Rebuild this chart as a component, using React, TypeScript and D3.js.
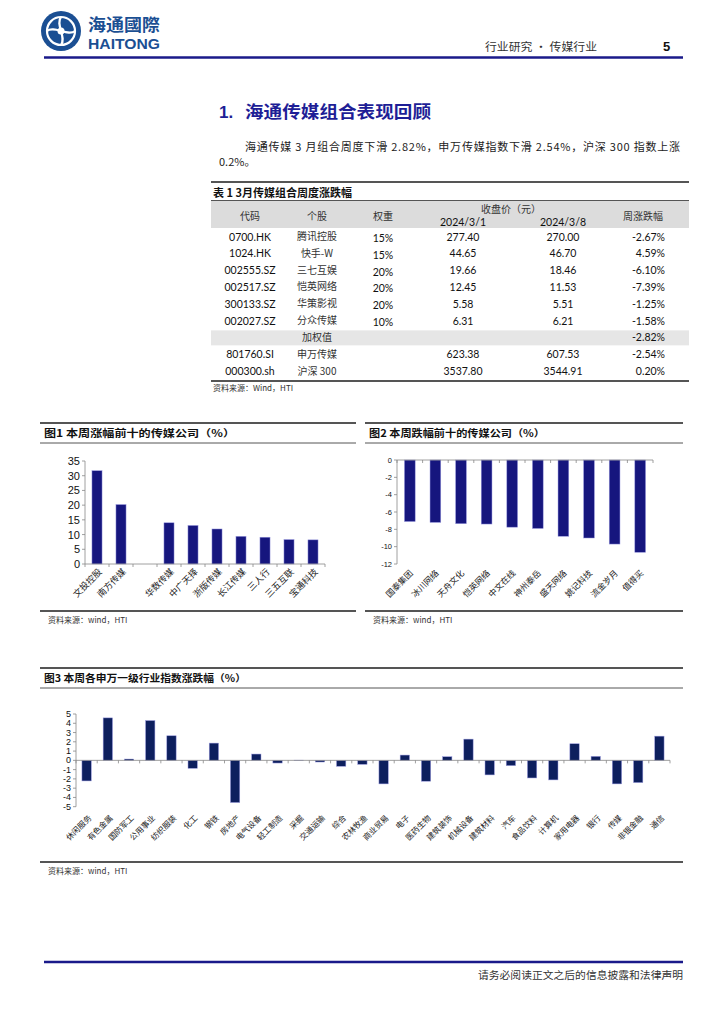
import React from 'react';
import * as d3 from 'd3';

// table 1
const tableCodes = ['0700.HK', '1024.HK', '002555.SZ', '002517.SZ', '300133.SZ', '002027.SZ', '', '801760.SI', '000300.sh'];
const tableNames = ['腾讯控股', '快手-W', '三七互娱', '恺英网络', '华策影视', '分众传媒', '加权值', '申万传媒', '沪深 300'];
const tableWeights = ['15%', '15%', '20%', '20%', '20%', '10%', '', '', ''];
const tablePrice0301 = ['277.40', '44.65', '19.66', '12.45', '5.58', '6.31', '', '623.38', '3537.80'];
const tablePrice0308 = ['270.00', '46.70', '18.46', '11.53', '5.51', '6.21', '', '607.53', '3544.91'];
const tableChange = ['-2.67%', '4.59%', '-6.10%', '-7.39%', '-1.25%', '-1.58%', '-2.82%', '-2.54%', '0.20%'];

// fig 1
const gainNames = ['文投控股', '南方传媒', '', '华数传媒', '中广天择', '浙版传媒', '长江传媒', '三人行', '三五互联', '宝通科技'];
const gainValues = [31.7, 20.2, 0, 14.0, 13.1, 11.9, 9.4, 9.1, 8.3, 8.2];
const gainTicks = [0, 5, 10, 15, 20, 25, 30, 35];

// fig 2
const lossNames = ['国泰集团', '冰川网络', '天舟文化', '恺英网络', '中文在线', '神州泰岳', '盛天网络', '姚记科技', '流金岁月', '值得买'];
const lossValues = [-7.1, -7.2, -7.35, -7.39, -7.75, -7.9, -8.8, -9.0, -9.7, -10.65];
const lossTicks = [0, -2, -4, -6, -8, -10, -12];

// fig 3
const industryNames = ['休闲服务', '有色金属', '国防军工', '公用事业', '纺织服装', '化工', '钢铁', '房地产', '电气设备', '轻工制造', '采掘', '交通运输', '综合', '农林牧渔', '商业贸易', '电子', '医药生物', '建筑装饰', '机械设备', '建筑材料', '汽车', '食品饮料', '计算机', '家用电器', '银行', '传媒', '非银金融', '通信'];
const industryValues = [-2.22, 4.58, 0.14, 4.29, 2.65, -0.86, 1.86, -4.55, 0.68, -0.29, 0.02, -0.18, -0.64, -0.43, -2.54, 0.57, -2.25, 0.39, 2.29, -1.57, -0.57, -1.9, -2.11, 1.79, 0.43, -2.54, -2.4, 2.61];
const industryTicks = [5, 4, 3, 2, 1, 0, -1, -2, -3, -4, -5];

const CJK = '"Noto Sans CJK SC", sans-serif';
const NUM = 'Lato, "Noto Sans CJK SC", sans-serif';
const ARIAL = '"Liberation Sans", Arial, sans-serif';
const NAVY = '#1a1a8a';

function Logo() {
  return (
    <g>
      <circle cx={61} cy={31} r={20} fill="#1b4f93" />
      <circle cx={61} cy={31} r={14} fill="none" stroke="#fff" strokeWidth={2.2} />
      <path d="M61,17 C55,24 67,38 61,45" fill="none" stroke="#fff" strokeWidth={2.2} />
      <path d="M47,31 C54,25 68,37 75,31" fill="none" stroke="#fff" strokeWidth={2.2} />
      <circle cx={61} cy={31} r={3.5} fill="#fff" />
      <text x={88} y={31} fontFamily={CJK} fontWeight={700} fontSize={17} fill="#1b4f93" textLength={72} lengthAdjust="spacingAndGlyphs">海通國際</text>
      <text x={88} y={49} fontFamily={ARIAL} fontWeight={700} fontSize={15} fill="#1b4f93" textLength={72} lengthAdjust="spacingAndGlyphs">HAITONG</text>
    </g>
  );
}

function Table() {
  const rowY = d3.scaleLinear().domain([0, 8]).range([236.5, 371]);
  const colCode = 250;
  const colName = 317;
  const colWeight = 383;
  const col1 = 463;
  const col2 = 563;
  const colChg = 665;
  const t = { fontFamily: NUM, fontSize: 10.5, fill: '#111' };
  const c = { fontFamily: CJK, fontSize: 10, fill: '#333' };
  return (
    <g>
      <line x1={211} x2={689} y1={182} y2={182} stroke="#555" strokeWidth={2} />
      <text x={213} y={197} fontFamily={CJK} fontWeight={700} fontSize={11} fill="#111" textLength={139} lengthAdjust="spacingAndGlyphs">表 1 3月传媒组合周度涨跌幅</text>
      <line x1={211} x2={689} y1={200.5} y2={200.5} stroke="#555" strokeWidth={1} />
      <rect x={211} y={201} width={478} height={27} fill="#dcdcdc" />
      <text x={colCode} y={215} {...c} textAnchor="middle" dominantBaseline="central">代码</text>
      <text x={colName} y={215} {...c} textAnchor="middle" dominantBaseline="central">个股</text>
      <text x={colWeight} y={215} {...c} textAnchor="middle" dominantBaseline="central">权重</text>
      <text x={511} y={208} {...c} textAnchor="middle" dominantBaseline="central">收盘价（元）</text>
      <text x={col1} y={222} {...t} textAnchor="middle" dominantBaseline="central">2024/3/1</text>
      <text x={col2} y={222} {...t} textAnchor="middle" dominantBaseline="central">2024/3/8</text>
      <text x={643} y={215} {...c} textAnchor="middle" dominantBaseline="central">周涨跌幅</text>
      <rect x={211} y={rowY(6) - 7} width={478} height={15} fill="#e6e6e6" />
      {tableNames.map((name, i) => {
        const y = rowY(i);
        return (
          <g key={i}>
            <text x={colCode} y={y} {...t} textAnchor="middle" dominantBaseline="central">{tableCodes[i]}</text>
            <text x={colName} y={y - 1} {...c} textAnchor="middle" dominantBaseline="central">{name}</text>
            <text x={colWeight} y={y + 1.5} {...t} textAnchor="middle" dominantBaseline="central">{tableWeights[i]}</text>
            <text x={col1} y={y} {...t} textAnchor="middle" dominantBaseline="central">{tablePrice0301[i]}</text>
            <text x={col2} y={y} {...t} textAnchor="middle" dominantBaseline="central">{tablePrice0308[i]}</text>
            <text x={colChg} y={y} {...t} textAnchor="end" dominantBaseline="central">{tableChange[i]}</text>
          </g>
        );
      })}
      <line x1={211} x2={689} y1={381} y2={381} stroke="#555" strokeWidth={2} />
      <text x={213} y={391} fontFamily={CJK} fontSize={8} fill="#333">资料来源：Wind，HTI</text>
    </g>
  );
}

function FigFrame({ x0, x1, top, bottom, title, titleLen }: { x0: number; x1: number; top: number; bottom: number; title: string; titleLen: number }) {
  return (
    <g>
      <line x1={x0} x2={x1} y1={top} y2={top} stroke="#555" strokeWidth={2} />
      <text x={x0 + 4} y={top + 14} fontFamily={CJK} fontWeight={700} fontSize={10} fill="#111" textLength={titleLen} lengthAdjust="spacingAndGlyphs">{title}</text>
      <line x1={x0} x2={x1} y1={top + 20} y2={top + 20} stroke="#555" strokeWidth={1} />
      <line x1={x0} x2={x1} y1={bottom} y2={bottom} stroke="#555" strokeWidth={2} />
      <text x={x0 + 8} y={bottom + 12} fontFamily={CJK} fontSize={8} fill="#333">资料来源：wind，HTI</text>
    </g>
  );
}

function BarChart(props: {
  names: string[];
  values: number[];
  ticks: number[];
  domain: [number, number];
  xr: [number, number];
  yr: [number, number];
  pad: number;
  color: string;
  tickFont: number;
  tickFamily: string;
  labelFont: number;
  labelY: number;
  labelDx: number;
}) {
  const { names, values, ticks, domain, xr, yr, pad, color, tickFont, tickFamily, labelFont, labelY, labelDx } = props;
  const x = d3.scaleBand<number>().domain(d3.range(names.length)).range(xr).paddingInner(pad).paddingOuter(pad / 2);
  const y = d3.scaleLinear().domain(domain).range(yr);
  const y0 = y(0);
  const step = x.step();
  return (
    <g>
      {values.map((v, i) => (
        <rect key={i} x={x(i)} y={Math.min(y(v), y0)} width={x.bandwidth()} height={Math.abs(y(v) - y0)} fill={color} stroke="#9a9ae0" strokeWidth={0.5} />
      ))}
      <line x1={xr[0]} x2={xr[0]} y1={yr[0]} y2={yr[1]} stroke="#888" strokeWidth={0.8} />
      {ticks.map((tk) => (
        <g key={tk}>
          <line x1={xr[0] - 3} x2={xr[0]} y1={y(tk)} y2={y(tk)} stroke="#888" strokeWidth={0.8} />
          <text x={xr[0] - 5} y={y(tk)} fontFamily={tickFamily} fontSize={tickFont} textAnchor="end" dominantBaseline="central" fill="#111">{tk}</text>
        </g>
      ))}
      <line x1={xr[0]} x2={xr[1]} y1={y0} y2={y0} stroke="#888" strokeWidth={0.8} />
      {d3.range(names.length + 1).map((i) => (
        <line key={i} x1={xr[0] + i * step} x2={xr[0] + i * step} y1={y0} y2={y0 + 3} stroke="#888" strokeWidth={0.8} />
      ))}
      {names.map((n, i) => (
        <text key={i} transform={`translate(${(x(i) ?? 0) + x.bandwidth() / 2 + labelDx},${labelY}) rotate(-45)`} fontFamily={CJK} fontSize={labelFont} textAnchor="end" dominantBaseline="central" fill="#222">{n}</text>
      ))}
    </g>
  );
}

export default function App() {
  return (
    <div style={{ position: 'absolute', left: 0, top: 0 }}>
      <svg width={724} height={1024} style={{ display: 'block', background: '#fff' }}>
        <Logo />
        <text x={485} y={51} fontFamily={CJK} fontSize={11} fill="#333" textLength={112} lengthAdjust="spacingAndGlyphs">行业研究 • 传媒行业</text>
        <text x={663} y={51} fontFamily={ARIAL} fontWeight={700} fontSize={13} fill="#111">5</text>
        <line x1={44} x2={683} y1={57.5} y2={57.5} stroke={NAVY} strokeWidth={2.5} />

        <text x={219} y={118} fontFamily={ARIAL} fontWeight={700} fontSize={17} fill="#1e1e96">1.</text>
        <text x={245} y={118} fontFamily={CJK} fontWeight={700} fontSize={17} fill="#1e1e96" textLength={186} lengthAdjust="spacingAndGlyphs">海通传媒组合表现回顾</text>
        <text x={245} y={151} fontFamily={CJK} fontSize={11} fill="#222" textLength={435} lengthAdjust="spacing">海通传媒 3 月组合周度下滑 2.82%，申万传媒指数下滑 2.54%，沪深 300 指数上涨</text>
        <text x={219} y={166} fontFamily={CJK} fontSize={11} fill="#222">0.2%。</text>

        <Table />

        <FigFrame x0={40} x1={356} top={423} bottom={611} title="图1  本周涨幅前十的传媒公司（%）" titleLen={191} />
        <BarChart names={gainNames} values={gainValues} ticks={gainTicks} domain={[0, 35]} xr={[85, 325]} yr={[564, 461]} pad={0.58} color="#16167e" tickFont={11} tickFamily={ARIAL} labelFont={9} labelY={570} labelDx={3} />

        <FigFrame x0={365} x1={683} top={423} bottom={611} title="图2  本周跌幅前十的传媒公司（%）" titleLen={176} />
        <BarChart names={lossNames} values={lossValues} ticks={lossTicks} domain={[-12, 0]} xr={[397, 653]} yr={[564, 460]} pad={0.58} color="#16167e" tickFont={7.5} tickFamily={ARIAL} labelFont={8.5} labelY={571} labelDx={1} />

        <FigFrame x0={40} x1={683} top={668} bottom={862} title="图3  本周各申万一级行业指数涨跌幅（%）" titleLen={202} />
        <BarChart names={industryNames} values={industryValues} ticks={industryTicks} domain={[-5, 5]} xr={[76, 670]} yr={[806.7, 714]} pad={0.56} color="#0d1f5e" tickFont={9} tickFamily={ARIAL} labelFont={8} labelY={816} labelDx={3} />

        <line x1={44} x2={683} y1={962} y2={962} stroke={NAVY} strokeWidth={2.5} />
        <text x={683} y={979} fontFamily={CJK} fontSize={10.5} fill="#333" textAnchor="end" textLength={205} lengthAdjust="spacingAndGlyphs">请务必阅读正文之后的信息披露和法律声明</text>
      </svg>
    </div>
  );
}
